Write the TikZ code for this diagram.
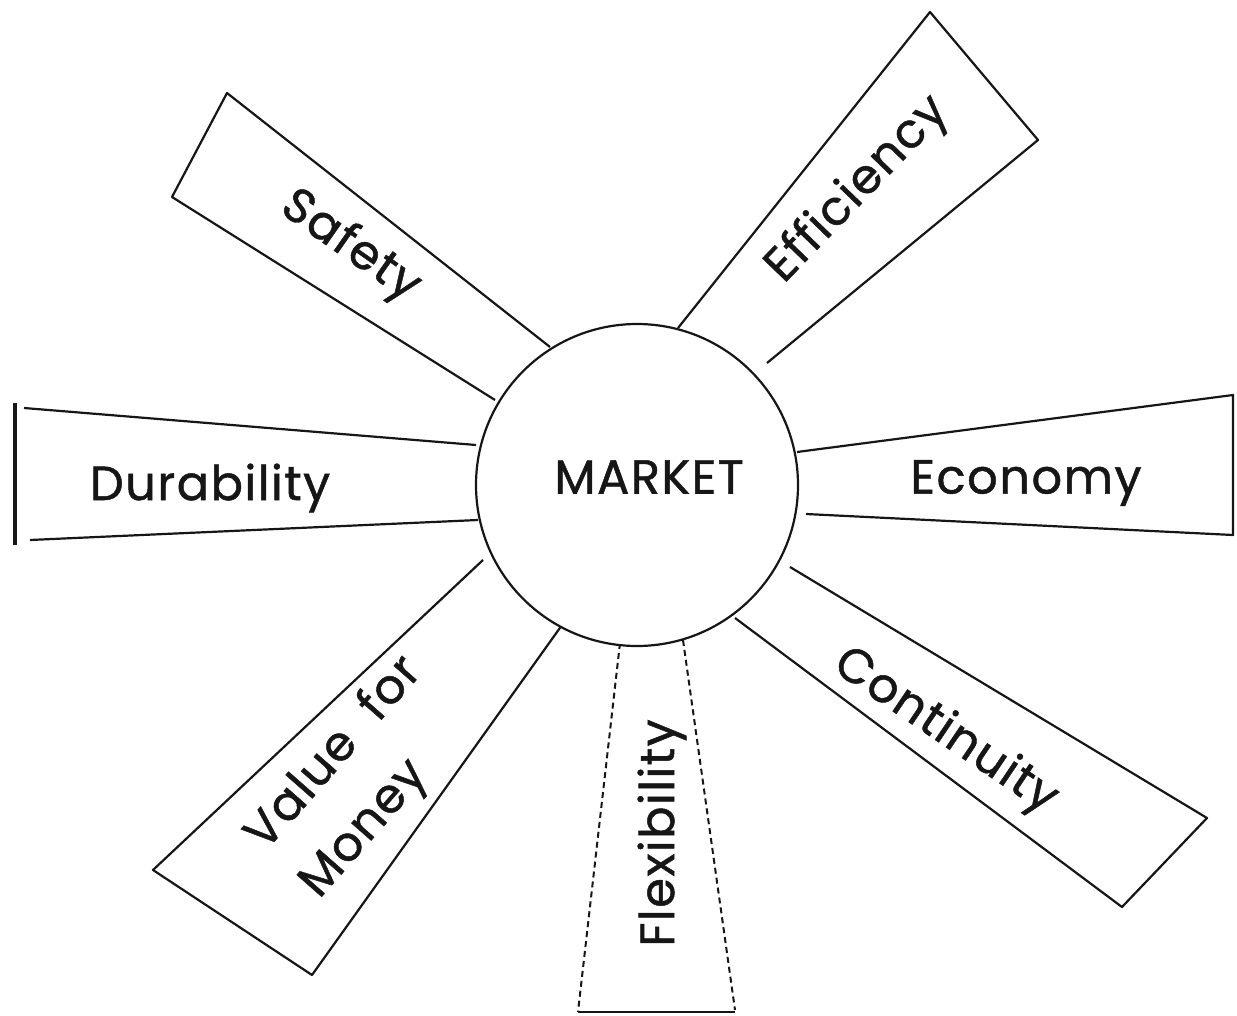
\documentclass[tikz,border=0pt]{standalone}
\usepackage{fontspec}
\setmainfont[FakeBold=1.0,LetterSpace=3]{Poppins}
\usepackage{xcolor}
\definecolor{Tinta}{RGB}{22,22,22}

\begin{document}
\begin{tikzpicture}[x=0.5pt,y=-0.5pt,
	rayo/.style={draw=Tinta,line width=1.1pt,line join=round},
	punteado/.style={rayo,line width=1pt,dash pattern=on 3pt off 2pt},
	rotulo/.style={font=\fontsize{24}{36}\selectfont,text=Tinta,align=left,inner sep=0pt}]
	\useasboundingbox (0,0) rectangle (1237,1016);
	% Dibuja los rayos alrededor del mercado
	\draw[rayo] (550,347) -- (227,93) -- (172,197) -- (495,400);
	\draw[rayo] (678,328) -- (930,12) -- (1038,140) -- (767,363);
	\draw[rayo] (476,445) -- (24,408);
	\draw[rayo,line width=2pt] (15,403) -- (15,545);
	\draw[rayo] (30,540) -- (478,520);
	\draw[rayo] (797,452) -- (1233,395) -- (1233,535) -- (806,514);
	\draw[rayo] (790,567) -- (1207,818) -- (1122,907) -- (735,618);
	\draw[rayo] (483,560) -- (153,870) -- (312,975) -- (562,625);
	\draw[punteado] (620,643) -- (578,1012);
	\draw[punteado] (683,640) -- (735,1010);
	\draw[rayo] (578,1012) -- (735,1012);
	% Dibuja el circulo central
	\node[rayo,circle,fill=white,minimum size=161pt,inner sep=0pt] (mercado) at (637,485) {};
	\node[rotulo] (mercado-rotulo) at (649,477) {MARKET};
	% Agrega los rotulos de cada rayo
	\node[rotulo,rotate=-35] (seguridad) at (350,247) {Safety};
	\node[rotulo,rotate=46] (eficiencia) at (858,190) {Efficiency};
	\node[rotulo] (durabilidad) at (210,488) {Durability};
	\node[rotulo] (economia) at (1026,483) {Economy};
	\node[rotulo,rotate=48.7] (valor) at (362,778) {Value\hspace{0.6em}for\\Money};
	\node[rotulo,rotate=90] (flexibilidad) at (662,833) {Flexibility};
	\node[rotulo,rotate=-34] (continuidad) at (945,732) {Continuity};
\end{tikzpicture}
\end{document}
